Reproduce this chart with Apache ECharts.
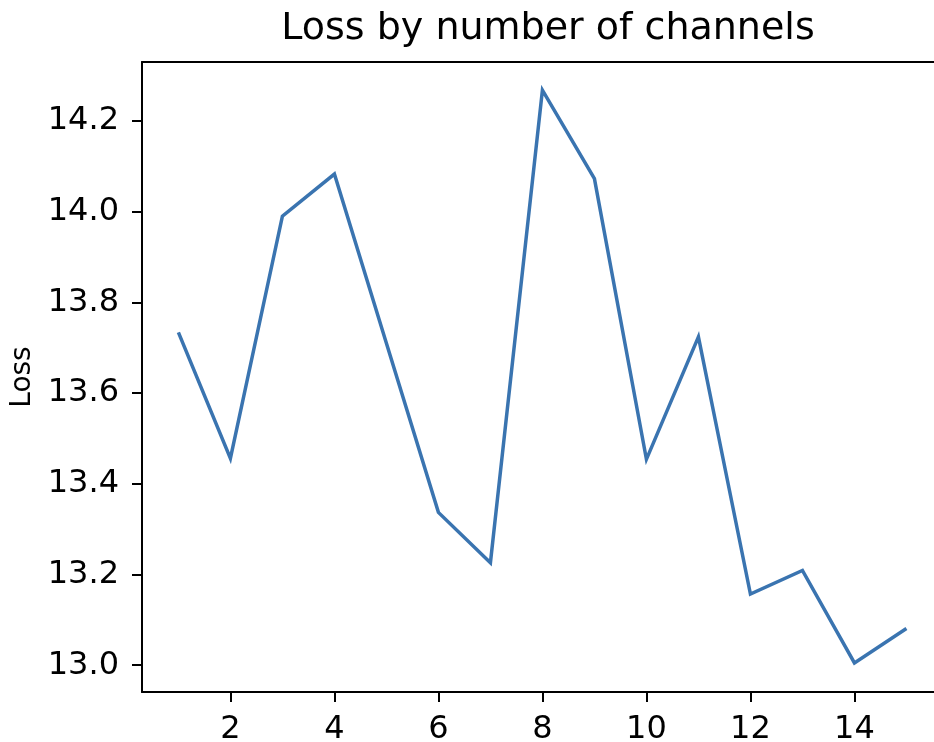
<!DOCTYPE html>
<html>
<head>
<meta charset="utf-8">
<script src="https://cdn.jsdelivr.net/npm/echarts@6/dist/echarts.min.js"></script>
<style>
  html, body { margin: 0; padding: 0; background: #ffffff; }
  #chart { width: 934px; height: 742px; }
</style>
</head>
<body>
<div id="chart"></div>
<script>
// Number of channels and the loss reached with each
const channels = [1, 2, 3, 4, 5, 6, 7, 8, 9, 10, 11, 12, 13, 14, 15];
const loss = [13.734, 13.456, 13.990, 14.083, 13.71, 13.337, 13.226, 14.268, 14.073, 13.454, 13.724, 13.157, 13.209, 13.005, 13.081];

// Tick positions shown on each axis
const xTicks = [2, 4, 6, 8, 10, 12, 14];
const yTicks = [13.0, 13.2, 13.4, 13.6, 13.8, 14.0, 14.2];

const FONT = 'DejaVu Sans';
const AXIS_LINE = { color: '#000000', width: 2 };

const chart = echarts.init(document.getElementById('chart'), null, { renderer: 'canvas' });

chart.setOption({
  animation: false,
  backgroundColor: '#ffffff',
  title: {
    text: 'Loss by number of channels',
    left: 543,
    textAlign: 'center',
    top: 5,
    textStyle: { fontFamily: FONT, fontSize: 38, fontWeight: 'normal', color: '#000000' }
  },
  grid: {
    left: 142,
    top: 62,
    bottom: 50,
    right: 0,
    outerBoundsMode: 'none',
    containLabel: false
  },
  xAxis: [{
    type: 'value',
    min: 0.3,
    max: 15.53,
    axisLine: { show: true, onZero: false, lineStyle: AXIS_LINE },
    axisTick: { show: true, length: 10, lineStyle: AXIS_LINE, customValues: xTicks },
    axisLabel: {
      customValues: xTicks,
      margin: 22,
      fontFamily: FONT,
      fontSize: 32,
      color: '#000000'
    },
    splitLine: { show: false }
  }, {
    // top frame line of the plot area
    type: 'value',
    position: 'top',
    min: 0.3,
    max: 15.53,
    axisLine: { show: true, onZero: false, lineStyle: AXIS_LINE },
    axisTick: { show: false },
    axisLabel: { show: false },
    splitLine: { show: false }
  }],
  yAxis: {
    type: 'value',
    min: 12.941,
    max: 14.330,
    name: 'Loss',
    nameLocation: 'middle',
    nameGap: 104,
    nameTextStyle: { fontFamily: FONT, fontSize: 28, color: '#000000' },
    axisLine: { show: true, onZero: false, lineStyle: AXIS_LINE },
    axisTick: { show: true, length: 10, lineStyle: AXIS_LINE, customValues: yTicks },
    axisLabel: {
      customValues: yTicks,
      margin: 23,
      fontFamily: FONT,
      fontSize: 32,
      color: '#000000',
      formatter: v => v.toFixed(1)
    },
    splitLine: { show: false }
  },
  series: [{
    type: 'line',
    xAxisIndex: 0,
    data: channels.map((c, i) => [c, loss[i]]),
    showSymbol: false,
    symbol: 'none',
    lineStyle: { color: '#3a74b0', width: 3.5, join: 'miter' },
    clip: false
  }]
});
</script>
</body>
</html>
